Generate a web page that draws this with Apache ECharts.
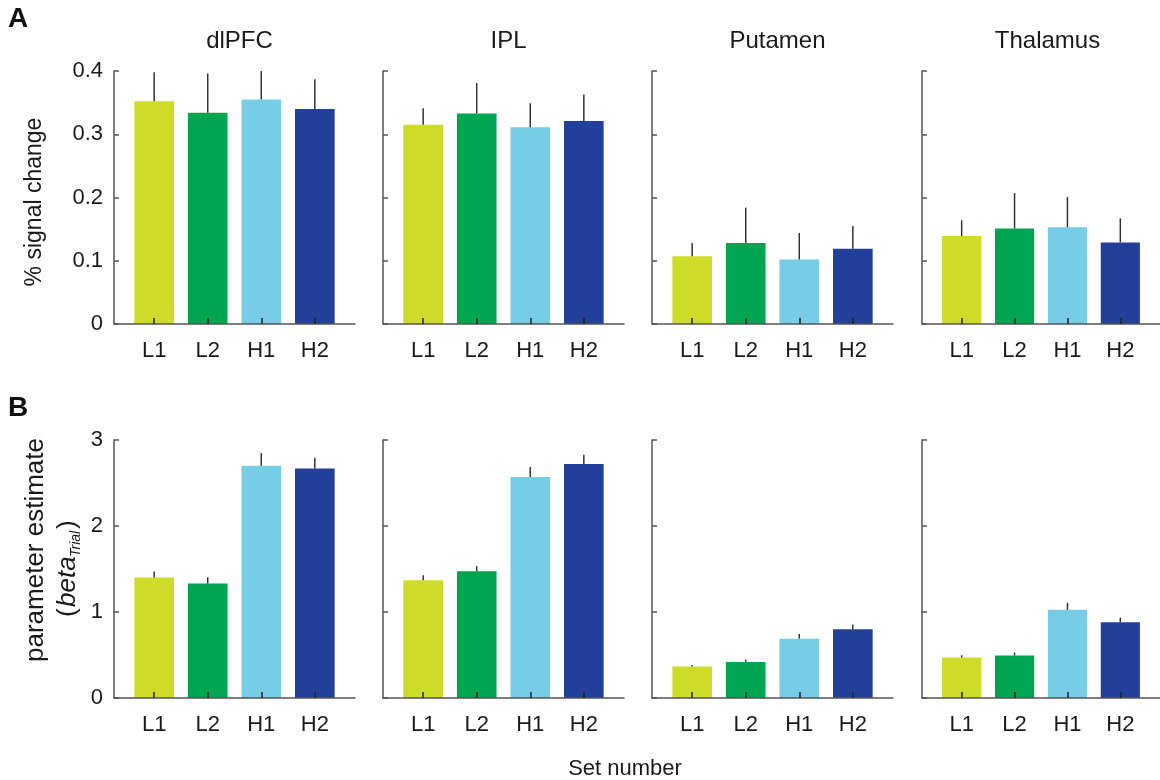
<!DOCTYPE html>
<html>
<head>
<meta charset="utf-8">
<script src="https://cdn.jsdelivr.net/npm/echarts@6/dist/echarts.min.js"></script>
<style>
html,body{margin:0;padding:0;background:#fff;}
#chart{width:1160px;height:780px;}
</style>
</head>
<body>
<div id="chart"></div>
<script>
// ---- data ----
const categories = ['L1', 'L2', 'H1', 'H2'];
const regions = ['dlPFC', 'IPL', 'Putamen', 'Thalamus'];
const barColors = ['#CDDC29', '#00A551', '#76CDE5', '#22409A'];

// Panel A: % signal change (mean, upper error)
const signalMean = [
  [0.352, 0.334, 0.355, 0.340],
  [0.315, 0.333, 0.311, 0.321],
  [0.107, 0.128, 0.102, 0.119],
  [0.139, 0.151, 0.153, 0.129]
];
const signalErr = [
  [0.046, 0.062, 0.045, 0.047],
  [0.026, 0.048, 0.038, 0.042],
  [0.021, 0.056, 0.042, 0.036],
  [0.025, 0.056, 0.048, 0.038]
];
// Panel B: parameter estimate (beta_Trial)
const betaMean = [
  [1.40, 1.33, 2.70, 2.67],
  [1.37, 1.475, 2.57, 2.72],
  [0.365, 0.42, 0.69, 0.80],
  [0.47, 0.495, 1.025, 0.88]
];
const betaErr = [
  [0.070, 0.075, 0.148, 0.124],
  [0.058, 0.058, 0.116, 0.109],
  [0.020, 0.028, 0.055, 0.054],
  [0.027, 0.034, 0.082, 0.055]
];
const signalAxis = { max: 0.4, interval: 0.1 };
const betaAxis = { max: 3, interval: 1 };

// ---- layout ----
const FONT = '"Liberation Sans", Arial, Helvetica, sans-serif';
const panelLefts = [114, 383, 652, 922];
const panelWidth = 241;
const rows = [
  { mean: signalMean, err: signalErr, axis: signalAxis, top: 71, height: 253 },
  { mean: betaMean, err: betaErr, axis: betaAxis, top: 440, height: 258 }
];

const grid = [], xAxis = [], yAxis = [], series = [], title = [];
rows.forEach((row, r) => {
  panelLefts.forEach((left, c) => {
    const idx = r * 4 + c;
    grid.push({ left: left, top: row.top, width: panelWidth, height: row.height, containLabel: false });
    xAxis.push({
      gridIndex: idx, type: 'value', min: 0.25, max: 4.75, z: 5,
      splitLine: { show: false },
      axisLine: { show: true, lineStyle: { color: '#555', width: 1.5 } },
      axisTick: { show: true, customValues: [1, 2, 3, 4], inside: true, length: 6,
                  lineStyle: { color: '#222', width: 1.5 } },
      axisLabel: { show: true, customValues: [1, 2, 3, 4], margin: 16,
                   fontSize: 22, color: '#1a1a1a', fontFamily: FONT,
                   formatter: v => categories[Math.round(v) - 1] }
    });
    yAxis.push({
      gridIndex: idx, type: 'value', min: 0, max: row.axis.max, interval: row.axis.interval, z: 5,
      splitLine: { show: false },
      axisLine: { show: true, lineStyle: { color: '#555', width: 1.5 } },
      axisTick: { show: true, inside: true, length: 5, lineStyle: { color: '#555', width: 1.5 } },
      axisLabel: { show: c === 0, margin: 11, fontSize: 22, color: '#1a1a1a', fontFamily: FONT,
                   formatter: v => String(Math.round(v * 10) / 10) }
    });
    series.push({
      type: 'custom', xAxisIndex: idx, yAxisIndex: idx, clip: false,
      encode: { x: 0, y: 1 },
      data: categories.map((cat, i) => [i + 1, row.mean[c][i], row.err[c][i]]),
      renderItem: (params, api) => {
        const x = api.value(0), v = api.value(1), e = api.value(2);
        const half = api.size([1, 0])[0] * 0.37;
        const p0 = api.coord([x, 0]);
        const p1 = api.coord([x, v]);
        const p2 = api.coord([x, v + e]);
        return {
          type: 'group',
          children: [
            { type: 'rect', shape: { x: p1[0] - half, y: p1[1], width: half * 2, height: p0[1] - p1[1] },
              style: { fill: barColors[Math.round(x) - 1] } },
            { type: 'line', shape: { x1: p1[0], y1: p1[1], x2: p2[0], y2: p2[1] },
              style: { stroke: '#333', lineWidth: 1.5 } }
          ]
        };
      }
    });
    if (r === 0) {
      title.push({
        text: regions[c], left: left + panelWidth / 2, top: 24, textAlign: 'center',
        textStyle: { fontSize: 24, fontWeight: 'normal', color: '#1a1a1a', fontFamily: FONT }
      });
    }
  });
});

const graphic = [
  { type: 'text', x: 18, y: 19, style: { text: 'A', font: 'bold 28px ' + FONT, fill: '#111', align: 'center', verticalAlign: 'middle' } },
  { type: 'text', x: 18, y: 408, style: { text: 'B', font: 'bold 28px ' + FONT, fill: '#111', align: 'center', verticalAlign: 'middle' } },
  { type: 'text', x: 35, y: 202, rotation: Math.PI / 2,
    style: { text: '% signal change', font: '23px ' + FONT, fill: '#1a1a1a', align: 'center', verticalAlign: 'middle' } },
  { type: 'text', x: 36, y: 550, rotation: Math.PI / 2,
    style: { text: 'parameter estimate', font: '26px ' + FONT, fill: '#1a1a1a', align: 'center', verticalAlign: 'middle' } },
  { type: 'group', x: 68, y: 617, rotation: Math.PI / 2,
    children: [
      { type: 'text', x: 0, y: 0, style: { text: '(', font: '26px ' + FONT, fill: '#1a1a1a', align: 'left', verticalAlign: 'middle' } },
      { type: 'text', x: 10, y: 0, style: { text: 'beta', font: 'italic 26px ' + FONT, fill: '#1a1a1a', align: 'left', verticalAlign: 'middle' } },
      { type: 'text', x: 60, y: 8, style: { text: 'Trial', font: 'italic 14px ' + FONT, fill: '#1a1a1a', align: 'left', verticalAlign: 'middle' } },
      { type: 'text', x: 88, y: 0, style: { text: ')', font: '26px ' + FONT, fill: '#1a1a1a', align: 'left', verticalAlign: 'middle' } }
    ] },
  { type: 'text', x: 625, y: 769,
    style: { text: 'Set number', font: '22px ' + FONT, fill: '#1a1a1a', align: 'center', verticalAlign: 'middle' } }
];

const chart = echarts.init(document.getElementById('chart'), null, { renderer: 'canvas' });
chart.setOption({
  animation: false,
  backgroundColor: '#fff',
  title, grid, xAxis, yAxis, series, graphic
});
</script>
</body>
</html>
